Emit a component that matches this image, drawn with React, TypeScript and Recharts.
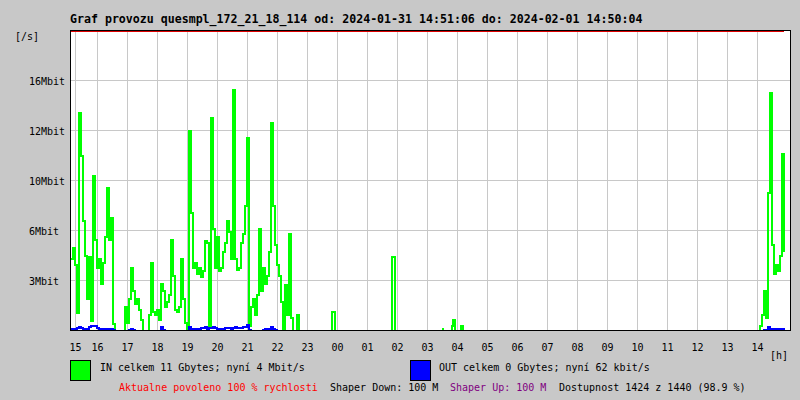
import {
  LineChart,
  Line,
  XAxis,
  YAxis,
  CartesianGrid,
  ReferenceArea,
} from "recharts";

// one sample every 4 minutes (2 px at 30 px per hour)
const SAMPLE_H = 1 / 15;

// hours on a running clock: 16 = 16:00 day one, 38 = 14:00 day two
const hourTicks = [15.2667, 16, 17, 18, 19, 20, 21, 22, 23, 24, 25, 26, 27, 28, 29, 30, 31, 32, 33, 34, 35, 36, 37, 38];
const hourLabels = ["15", "16", "17", "18", "19", "20", "21", "22", "23", "00", "01", "02", "03", "04", "05", "06", "07", "08", "09", "10", "11", "12", "13", "14"];

const rateTicks = [3.2, 6.4, 9.6, 12.8, 16];
const rateLabels = ["3Mbit", "6Mbit", "10Mbit", "12Mbit", "16Mbit"];

// evening traffic, Mbit/s
const eveningStartH = 15.1333;
const inEvening = [
  4.6, 5.3, 4.2, 1.1, 13.9, 11.2, 7.0, 4.8, 2.0, 4.7,
  0.6, 9.9, 5.8, 4.0, 4.6, 3.0, 4.3, 6.0, 9.1, 5.8,
  7.2, 0.4, 0, 0, 0, 0, 0, 1.5, 0.5, 2.0,
  4.0, 2.5, 1.7, 2.0, 1.3, 0.7, 0, 0, 0, 1.0,
  4.3, 1.2, 1.0, 1.3, 0.7, 3.0, 2.5, 1.5, 1.8, 2.3,
  5.8, 3.5, 1.3, 1.2, 1.5, 4.6, 2.0, 0.5, 0, 12.8,
  7.5, 4.0, 4.3, 3.6, 4.0, 3.4, 3.8, 5.7, 5.6, 0.3,
  13.6, 6.5, 4.0, 6.0, 3.8, 4.0, 5.0, 5.6, 7.0, 6.3,
  4.6, 15.4, 4.6, 3.9, 4.0, 5.6, 6.2, 8.0, 12.3, 0.3,
  1.5, 2.0, 1.0, 2.3, 6.5, 2.5, 4.0, 3.0, 3.5, 5.0,
  13.3, 8.0, 5.5, 4.2, 3.5, 1.8, 0, 2.9, 1.0, 6.2,
  0.8, 0, 0, 1.0, 0,
];
const outEvening = [
  0.12, 0.12, 0.1, 0.15, 0.2, 0.18, 0.05, 0.12, 0.1, 0.25,
  0.28, 0.32, 0.3, 0.15, 0.12, 0.12, 0.1, 0.12, 0.1, 0.12,
  0.1, 0.05, 0, 0, 0, 0, 0, 0, 0, 0.05,
  0.1, 0.05, 0, 0, 0, 0, 0, 0, 0, 0,
  0, 0, 0, 0, 0, 0.2, 0.05, 0, 0, 0,
  0, 0, 0, 0, 0, 0, 0, 0, 0, 0.2,
  0.12, 0.1, 0.1, 0.12, 0.12, 0.15, 0.15, 0.2, 0.12, 0.15,
  0.15, 0.2, 0.15, 0.1, 0.1, 0.12, 0.12, 0.15, 0.15, 0.15,
  0.12, 0.15, 0.2, 0.15, 0.15, 0.15, 0.2, 0.25, 0.35, 0.05,
  0, 0, 0, 0, 0, 0, 0.05, 0.1, 0.1, 0.1,
  0.2, 0.12, 0.05, 0, 0, 0, 0, 0, 0, 0,
  0, 0, 0, 0, 0,
];

// isolated bursts during the night
const nightHours = [23.8, 23.83, 23.9, 25.83, 25.9, 27.5, 27.53, 27.8, 27.85, 27.93, 28.1, 28.17];
const nightIn = [0.7, 1.2, 0, 4.7, 0, 0.08, 0, 0.3, 0.65, 0, 0.3, 0];

// afternoon of the second day
const afternoonStartH = 38.0;
const inAfternoon = [0, 0.3, 1.0, 2.5, 0.8, 8.8, 15.2, 5.5, 3.6, 4.2, 3.8, 4.8, 11.3, 5.0];
const outAfternoon = [0, 0, 0, 0.05, 0, 0.2, 0.1, 0.08, 0.08, 0.08, 0.08, 0.08, 0.12, 0.05];

// allowed-speed limit line, drawn just under the top edge
const LIMIT = 19.136;

const rows = [
  ...inEvening.map((v, i) => ({ h: eveningStartH + i * SAMPLE_H, in: v, out: outEvening[i] as number | null, limit: LIMIT })),
  ...nightHours.map((h, i) => ({ h, in: nightIn[i], out: null as number | null, limit: LIMIT })),
  ...inAfternoon.map((v, i) => ({ h: afternoonStartH + i * SAMPLE_H, in: v, out: outAfternoon[i] as number | null, limit: LIMIT })),
];

const FONT = "'DejaVu Sans Mono', monospace";

function HourTick({ x, y, payload }: any) { // eslint-disable-line @typescript-eslint/no-explicit-any
  const label = hourLabels[hourTicks.indexOf(payload.value)];
  return (
    <text x={x} y={y + 20} textAnchor="middle" fontFamily={FONT} fontSize={10} fill="#000">
      {label}
    </text>
  );
}

function RateTick({ y, payload }: any) { // eslint-disable-line @typescript-eslint/no-explicit-any
  const label = rateLabels[rateTicks.indexOf(payload.value)];
  return (
    <text x={29} y={y + 4.5} textAnchor="start" fontFamily={FONT} fontSize={10} fill="#000">
      {label}
    </text>
  );
}

export default function App() {
  return (
    <div style={{ position: "absolute", left: 0, top: 0, width: 800, height: 400, background: "#c8c8c8" }}>
      <style>{".recharts-surface line, .recharts-surface path, .recharts-surface rect { shape-rendering: crispEdges; }"}</style>
      <LineChart width={800} height={400} data={rows} margin={{ top: 30.5, right: 9.5, bottom: 40, left: 0.5 }}>
        <CartesianGrid stroke="#c8c8c8" fill="#ffffff" />
        <Line
          type="linear"
          dataKey="limit"
          stroke="#dd0000"
          strokeWidth={1}
          dot={false}
          activeDot={false}
          isAnimationActive={false}
        />
        <Line
          type="stepAfter"
          dataKey="in"
          stroke="#00ff00"
          strokeWidth={2}
          dot={false}
          activeDot={false}
          isAnimationActive={false}
        />
        <Line
          type="stepAfter"
          dataKey="out"
          stroke="#0000ff"
          strokeWidth={2}
          dot={false}
          activeDot={false}
          isAnimationActive={false}
        />
        <XAxis
          dataKey="h"
          type="number"
          domain={[15.1, 39.1]}
          ticks={hourTicks}
          allowDataOverflow
          height={29.5}
          tickSize={0}
          tickMargin={0}
          tickLine={false}
          axisLine={{ stroke: "#000" }}
          tick={<HourTick />}
          interval={0}
        />
        <YAxis
          type="number"
          domain={[0, 19.2]}
          ticks={rateTicks}
          allowDataOverflow
          width={70}
          tickSize={0}
          tickMargin={0}
          tickLine={false}
          axisLine={{ stroke: "#000" }}
          tick={<RateTick />}
          interval={0}
        />
        <ReferenceArea x1={15.1} x2={39.1} y1={0} y2={19.2} fill="none" fillOpacity={0} stroke="#000" strokeWidth={1} />
      </LineChart>
      <svg width={800} height={400} style={{ position: "absolute", left: 0, top: 0, pointerEvents: "none" }}>
        <text x={70} y={22.5} fontFamily={FONT} fontSize={11.6} fontWeight="bold" fill="#000">
          Graf provozu quesmpl_172_21_18_114 od: 2024-01-31 14:51:06 do: 2024-02-01 14:50:04
        </text>
        <text x={15} y={40} fontFamily={FONT} fontSize={10} fill="#000">[/s]</text>
        <text x={770} y={359} fontFamily={FONT} fontSize={10} fill="#000">[h]</text>
        <rect x={70.5} y={360.5} width={20} height={20} fill="#00ff00" stroke="#000" />
        <text x={100} y={371} fontFamily={FONT} fontSize={10} fill="#000">IN celkem 11 Gbytes; nyní 4 Mbit/s</text>
        <rect x={410.5} y={360.5} width={20} height={20} fill="#0000ff" stroke="#000" />
        <text x={439} y={371} fontFamily={FONT} fontSize={10} fill="#000">OUT celkem 0 Gbytes; nyní 62 kbit/s</text>
        <text x={119} y={391} fontFamily={FONT} fontSize={10} fill="#ff0000">Aktualne povoleno 100 % rychlosti</text>
        <text x={330} y={391} fontFamily={FONT} fontSize={10} fill="#000">Shaper Down: 100 M</text>
        <text x={450} y={391} fontFamily={FONT} fontSize={10} fill="#800080">Shaper Up: 100 M</text>
        <text x={559} y={391} fontFamily={FONT} fontSize={10} fill="#000">Dostupnost 1424 z 1440 (98.9 %)</text>
      </svg>
    </div>
  );
}
